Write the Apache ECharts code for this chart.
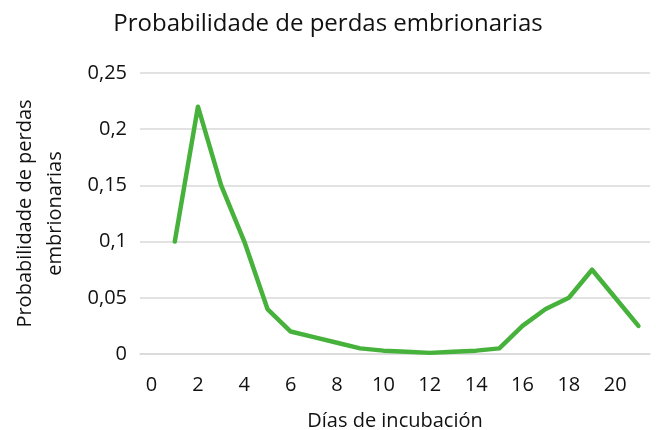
<!DOCTYPE html>
<html>
<head>
<meta charset="utf-8">
<script src="https://cdn.jsdelivr.net/npm/echarts@6/dist/echarts.min.js"></script>
<style>
  html, body { margin: 0; padding: 0; background: #fff; }
  #chart { width: 656px; height: 430px; }
</style>
</head>
<body>
<div id="chart"></div>
<script>
// datos del gráfico
var dias = ['0', '1', '2', '3', '4', '5', '6', '7', '8', '9', '10',
            '11', '12', '13', '14', '15', '16', '17', '18', '19', '20', '21'];
var probabilidad = [null, 0.1, 0.22, 0.15, 0.1, 0.04, 0.02, 0.015, 0.01, 0.005, 0.003,
                    0.002, 0.001, 0.002, 0.003, 0.005, 0.025, 0.04, 0.05, 0.075, 0.05, 0.025];
var yTicks = [0, 0.05, 0.1, 0.15, 0.2, 0.25];

var fuente = 'Open Sans';
var chart = echarts.init(document.getElementById('chart'));

var option = {
  textStyle: { fontFamily: fuente },
  //título
  title: {
    text: 'Probabilidade de perdas embrionarias',
    left: 'center',
    top: 7,
    textStyle: { fontFamily: fuente, fontSize: 24, fontWeight: 'normal', color: '#111' }
  },
  grid: { left: 140, right: 6, top: 73, bottom: 76, outerBoundsMode: 'none' },
  xAxis: {
    type: 'category',
    data: dias,
    boundaryGap: true,
    name: 'Días de incubación',
    nameLocation: 'middle',
    nameGap: 57,
    nameTextStyle: { fontFamily: fuente, fontSize: 20, color: '#111' },
    axisLine: { lineStyle: { color: '#d9d9d9', width: 1.5 } },
    axisTick: { show: false },
    axisLabel: { interval: 1, fontSize: 20, color: '#111', margin: 21 }
  },
  yAxis: {
    type: 'value',
    min: yTicks[0],
    max: yTicks[yTicks.length - 1],
    interval: 0.05,
    name: 'Probabilidade de perdas\nembrionarias',
    nameLocation: 'middle',
    nameGap: 70,
    nameTextStyle: { fontFamily: fuente, fontSize: 20, color: '#111', lineHeight: 30 },
    axisLine: { show: false },
    axisTick: { show: false },
    axisLabel: {
      fontSize: 20, color: '#111', margin: 13,
      formatter: function (v) { return String(+v.toFixed(2)).replace('.', ','); }
    },
    splitLine: { lineStyle: { color: '#d9d9d9', width: 1.5 } }
  },
  series: [{
    type: 'line',
    data: probabilidad,
    showSymbol: false,
    connectNulls: false,
    lineStyle: { color: '#46b23c', width: 4.5, cap: 'round', join: 'round' },
    itemStyle: { color: '#46b23c' }
  }]
};

chart.setOption(option);
</script>
</body>
</html>
